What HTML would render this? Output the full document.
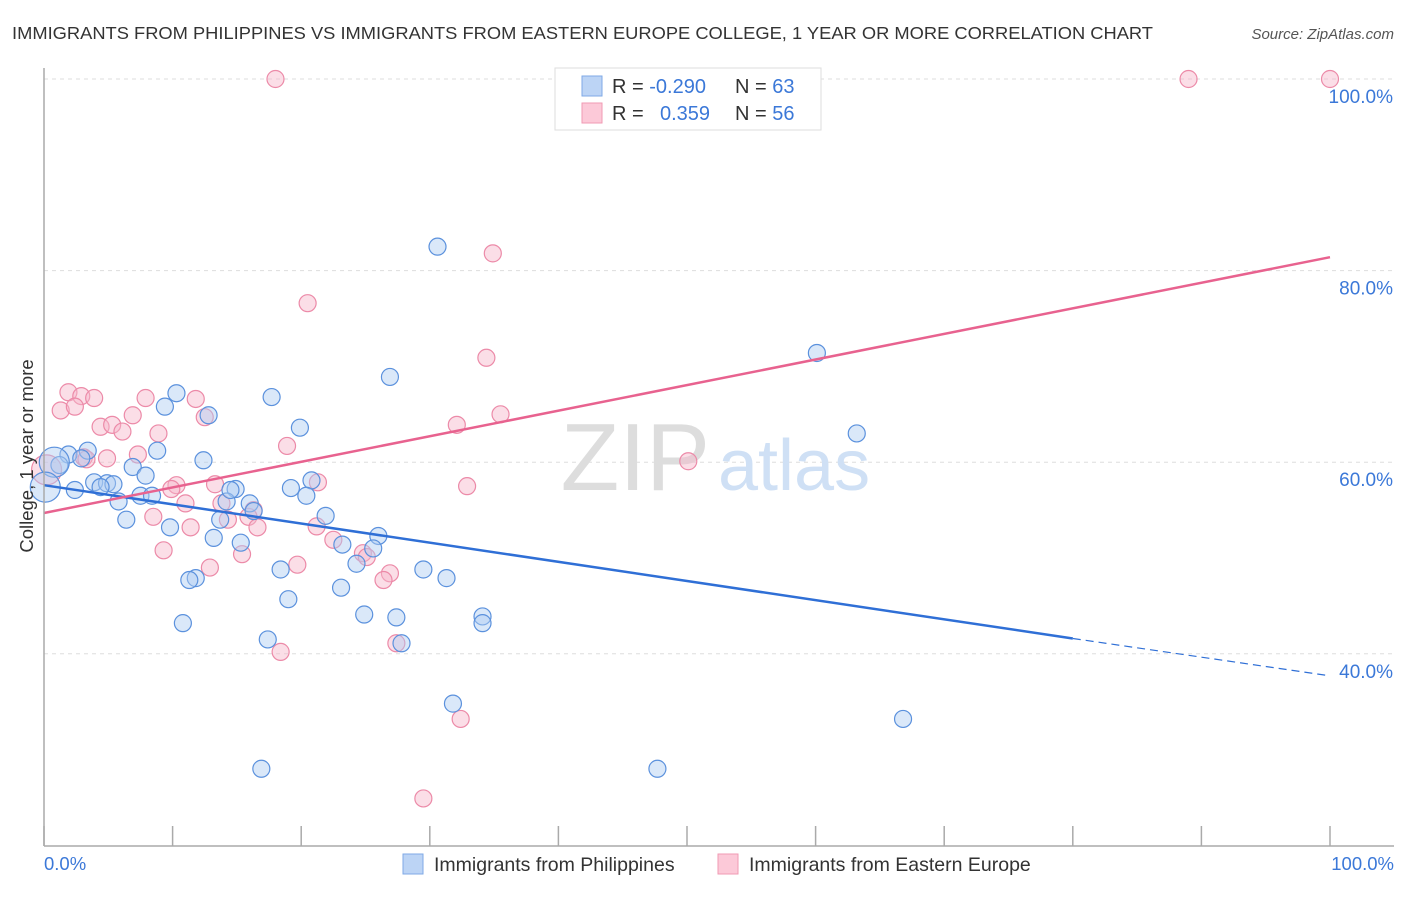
<!DOCTYPE html>
<html><head><meta charset="utf-8"><style>
body{margin:0;background:#fff;font-family:"Liberation Sans",sans-serif;}
svg text{font-family:"Liberation Sans",sans-serif;}
</style></head><body>
<svg width="1406" height="892" viewBox="0 0 1406 892">
<text x="12" y="39" font-size="17.5" fill="#333" textLength="1141" lengthAdjust="spacingAndGlyphs">IMMIGRANTS FROM PHILIPPINES VS IMMIGRANTS FROM EASTERN EUROPE COLLEGE, 1 YEAR OR MORE CORRELATION CHART</text>
<text x="1394" y="39" font-size="15" fill="#555" text-anchor="end" font-style="italic">Source: ZipAtlas.com</text>
<g id="grid"></g>
<text x="710" y="490" font-size="96" fill="#ddd" text-anchor="end" font-family="Liberation Serif">ZIP</text>
<text x="718" y="490" font-size="72" fill="#cfe0f5">atlas</text>
<g id="pts"></g>
<g id="lines"></g>
<line x1="44" y1="68" x2="44" y2="846" stroke="#aaa" stroke-width="1.5"/>
<line x1="44" y1="846" x2="1394" y2="846" stroke="#aaa" stroke-width="1.5"/>
<g id="ticks"></g>
<text x="44" y="870" font-size="18.5" fill="#3b78d8">0.0%</text>
<text x="1394" y="870" font-size="18.5" fill="#3b78d8" text-anchor="end">100.0%</text>
<text transform="translate(33,456) rotate(-90)" font-size="18.5" fill="#333" text-anchor="middle">College, 1 year or more</text>
<g>
<rect x="555" y="68" width="266" height="62" fill="#fff" stroke="#ddd"/>
<rect x="582" y="76" width="20" height="20" fill="#bcd4f5" stroke="#7fa9e6"/>
<rect x="582" y="103" width="20" height="20" fill="#fcc9d8" stroke="#f09ab3"/>
<text x="612" y="93" font-size="20" fill="#333">R = <tspan fill="#3b78d8">-0.290</tspan><tspan x="735">N = </tspan><tspan fill="#3b78d8">63</tspan></text>
<text x="612" y="120" font-size="20" fill="#333">R = <tspan x="660" fill="#3b78d8">0.359</tspan><tspan x="735">N = </tspan><tspan fill="#3b78d8">56</tspan></text>
</g>
<g>
<rect x="403" y="854" width="20" height="20" fill="#bcd4f5" stroke="#7fa9e6"/>
<text x="434" y="871" font-size="19.5" fill="#333">Immigrants from Philippines</text>
<rect x="718" y="854" width="20" height="20" fill="#fcc9d8" stroke="#f09ab3"/>
<text x="749" y="871" font-size="19.5" fill="#333">Immigrants from Eastern Europe</text>
</g>
</svg>
<script>
const yTicks=[100,80,60,40];
const blueX=[30.6,60.1,26.9,17.7,10.3,9.4,12.8,19.9,63.2,8.8,3.4,1.9,2.9,1.2,12.4,6.9,7.9,3.9,4.9,5.4,4.4,19.2,14.9,20.8,20.4,7.5,8.4,5.8,16.0,14.2,16.3,21.9,13.7,6.4,9.8,26.0,13.2,15.3,23.2,25.6,24.3,18.4,29.5,31.3,11.8,11.3,19.0,23.1,24.9,27.4,34.1,34.1,10.8,17.4,27.8,31.8,66.8,16.9,47.7,0.8,0.1,2.4,14.5];
const blueY=[82.5,71.4,68.9,66.8,67.2,65.8,64.9,63.6,63.0,61.2,61.2,60.8,60.4,59.7,60.2,59.5,58.6,57.9,57.8,57.7,57.4,57.3,57.2,58.1,56.5,56.5,56.5,55.9,55.7,55.9,54.9,54.4,54.0,54.0,53.2,52.3,52.1,51.6,51.4,51.0,49.4,48.8,48.8,47.9,47.9,47.7,45.7,46.9,44.1,43.8,43.9,43.2,43.2,41.5,41.1,34.8,33.2,28.0,28.0,60.0,57.4,57.1,57.1];
const pinkX=[18.0,89.0,100,34.9,20.5,34.4,1.9,2.9,3.9,1.3,2.4,7.9,11.8,6.9,12.5,35.5,32.1,4.4,5.3,8.9,6.1,18.9,3.1,4.9,7.3,50.1,10.3,9.9,13.3,32.9,21.3,11.0,13.8,16.3,8.5,15.9,14.3,11.4,16.6,21.2,22.5,9.3,15.4,24.8,25.1,19.7,26.9,26.4,12.9,27.4,18.4,32.4,29.5,0.2,3.3];
const pinkY=[100,100,100,81.8,76.6,70.9,67.3,66.9,66.7,65.4,65.8,66.7,66.6,64.9,64.7,65.0,63.9,63.7,63.9,63.0,63.2,61.7,60.5,60.4,60.8,60.1,57.6,57.2,57.7,57.5,57.9,55.7,55.7,55.0,54.3,54.3,54.0,53.2,53.2,53.3,51.9,50.8,50.4,50.5,50.1,49.3,48.4,47.7,49.0,41.1,40.2,33.2,24.9,59.2,60.3];
const bigBlue=[59,60];const bigPink=[53];
const blueLine=[0,57.6,80,41.6,100,37.7];
const pinkLine=[0,54.7,100,81.4];
const sx=v=>44+v*12.86, sy=v=>79+(100-v)*9.58;
const NS='http://www.w3.org/2000/svg';
const grid=document.getElementById('grid'),ticks=document.getElementById('ticks');
yTicks.forEach(t=>{const l=document.createElementNS(NS,'line');


l.setAttribute('x1',44);l.setAttribute('x2',1394);l.setAttribute('y1',sy(t));l.setAttribute('y2',sy(t));
l.setAttribute('stroke','#ddd');l.setAttribute('stroke-dasharray','4,4');grid.appendChild(l);
const tx=document.createElementNS(NS,'text');


tx.setAttribute('x',1393);tx.setAttribute('y',sy(t)+24);tx.setAttribute('text-anchor','end');
tx.setAttribute('font-size','19');tx.setAttribute('fill','#3b78d8');tx.textContent=t.toFixed(1)+'%';ticks.appendChild(tx);});
for(let i=0;i<=10;i++){const l=document.createElementNS(NS,'line');


l.setAttribute('x1',sx(i*10));l.setAttribute('x2',sx(i*10));l.setAttribute('y1',826);l.setAttribute('y2',846);
l.setAttribute('stroke','#aaa');l.setAttribute('stroke-width','1.5');ticks.appendChild(l);}
const pts=document.getElementById('pts');
function dot(x,y,r,fill,stroke,name){const c=document.createElementNS(NS,'circle');


c.setAttribute('cx',sx(x));c.setAttribute('cy',sy(y));c.setAttribute('r',r);
c.setAttribute('fill',fill);c.setAttribute('fill-opacity','0.45');c.setAttribute('stroke',stroke);c.setAttribute('stroke-width','1.2');pts.appendChild(c);}
pinkX.forEach((x,i)=>dot(x,pinkY[i],bigPink.includes(i)?15:8.5,'#f7b6c9','#ec8aa8','point-eastern-europe'));
blueX.forEach((x,i)=>dot(x,blueY[i],bigBlue.includes(i)?15:8.5,'#aecbf2','#5b91dd','point-philippines'));
const lines=document.getElementById('lines');
function ln(a,b,c,d,col,dash,name){const l=document.createElementNS(NS,'line');


l.setAttribute('x1',sx(a));l.setAttribute('y1',sy(b));l.setAttribute('x2',sx(c));l.setAttribute('y2',sy(d));
l.setAttribute('stroke',col);l.setAttribute('stroke-width',dash?1.2:2.5);if(dash)l.setAttribute('stroke-dasharray','8,5');lines.appendChild(l);}
ln(blueLine[0],blueLine[1],blueLine[2],blueLine[3],'#2f6fd6',false,'trend-philippines');
ln(blueLine[2],blueLine[3],blueLine[4],blueLine[5],'#2f6fd6',true,'trend-philippines-extension');
ln(pinkLine[0],pinkLine[1],pinkLine[2],pinkLine[3],'#e8628f',false,'trend-eastern-europe');
</script>
</body></html>
